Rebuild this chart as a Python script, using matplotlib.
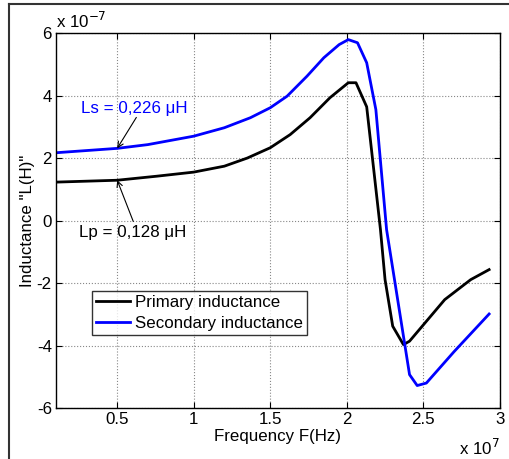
import matplotlib
matplotlib.use("Agg")
import matplotlib.pyplot as plt
from matplotlib.lines import Line2D

plt.rcParams['font.family'] = ['Liberation Sans', 'DejaVu Sans']

# Frequency (x 1e7 Hz) and inductance (x 1e-7 H)
f_primary = [0.1, 0.5, 0.76, 1.0, 1.2, 1.35, 1.50, 1.63, 1.76, 1.89, 2.01, 2.06, 2.13, 2.22, 2.25, 2.30, 2.37, 2.41, 2.64, 2.81, 2.93]
L_primary = [1.23, 1.29, 1.42, 1.55, 1.74, 2.00, 2.33, 2.75, 3.29, 3.93, 4.41, 4.41, 3.64, -0.29, -1.89, -3.38, -3.97, -3.86, -2.53, -1.89, -1.57]

f_secondary = [0.1, 0.5, 0.70, 1.0, 1.2, 1.37, 1.50, 1.61, 1.74, 1.85, 1.95, 2.01, 2.07, 2.13, 2.19, 2.26, 2.41, 2.46, 2.52, 2.70, 2.93]
L_secondary = [2.17, 2.31, 2.43, 2.70, 2.97, 3.29, 3.61, 3.98, 4.62, 5.21, 5.63, 5.79, 5.69, 5.05, 3.55, -0.29, -4.93, -5.28, -5.20, -4.20, -2.99]

series_names = ["Primary inductance", "Secondary inductance"]
x_ticks = [0.5, 1, 1.5, 2, 2.5, 3]
x_ticklabels = ["0.5", "1", "1.5", "2", "2.5", "3"]
y_ticks = [-6, -4, -2, 0, 2, 4, 6]
y_ticklabels = ["-6", "-4", "-2", "0", "2", "4", "6"]

FS = 12.2

fig = plt.figure(figsize=(5.09, 4.59), dpi=100)
ax = fig.add_axes([0.110, 0.111, 0.872, 0.817])

ax.plot(f_primary, L_primary, color='black', lw=2.0, label=series_names[0])
ax.plot(f_secondary, L_secondary, color='#0000ff', lw=2.0, label=series_names[1])

ax.set_xlim(0.1, 3.0)
ax.set_ylim(-6, 6)
ax.set_xticks(x_ticks)
ax.set_xticklabels(x_ticklabels)
ax.set_yticks(y_ticks)
ax.set_yticklabels(y_ticklabels)
ax.tick_params(direction='in', top=True, right=True, labelsize=FS, length=4, width=0.8, pad=3)
ax.grid(True, color='#888888', linestyle=':', linewidth=0.8)
for s in ax.spines.values():
    s.set_linewidth(1.0)

ax.set_xlabel('Frequency F(Hz)', fontsize=FS, labelpad=1)
ax.set_ylabel('Inductance "L(H)"', fontsize=FS, labelpad=1)

ax.text(0.0, 1.005, r'x 10$^{-7}$', transform=ax.transAxes, fontsize=FS, ha='left', va='bottom')
ax.text(1.0, -0.08, r'x 10$^{7}$', transform=ax.transAxes, fontsize=FS, ha='right', va='top')

ax.text(0.61, 3.58, 'Ls = 0,226 μH', color='#0000ff', fontsize=FS, ha='center', va='center')
ax.annotate('', xy=(0.5, 2.31), xytext=(0.625, 3.30),
            arrowprops=dict(arrowstyle='->', color='black', lw=0.8, shrinkA=0, shrinkB=0))
ax.text(0.60, -0.38, 'Lp = 0,128 μH', color='black', fontsize=FS, ha='center', va='center')
ax.annotate('', xy=(0.5, 1.29), xytext=(0.605, -0.03),
            arrowprops=dict(arrowstyle='->', color='black', lw=0.8, shrinkA=0, shrinkB=0))

leg = ax.legend(loc='upper left', bbox_to_anchor=(0.081, 0.312), fontsize=FS, frameon=True,
                fancybox=False, edgecolor='black', handlelength=2.0, borderpad=0.25,
                labelspacing=0.35, handletextpad=0.3, borderaxespad=0)
leg.get_frame().set_linewidth(1.0)

# outer frame (left and top edges visible)
fig.add_artist(Line2D([9/509, 9/509], [0, 1 - 4/459], transform=fig.transFigure, color='#333333', lw=1.5))
fig.add_artist(Line2D([9/509, 1], [1 - 4/459, 1 - 4/459], transform=fig.transFigure, color='#333333', lw=1.5))

fig.savefig('out.png', dpi=100)
